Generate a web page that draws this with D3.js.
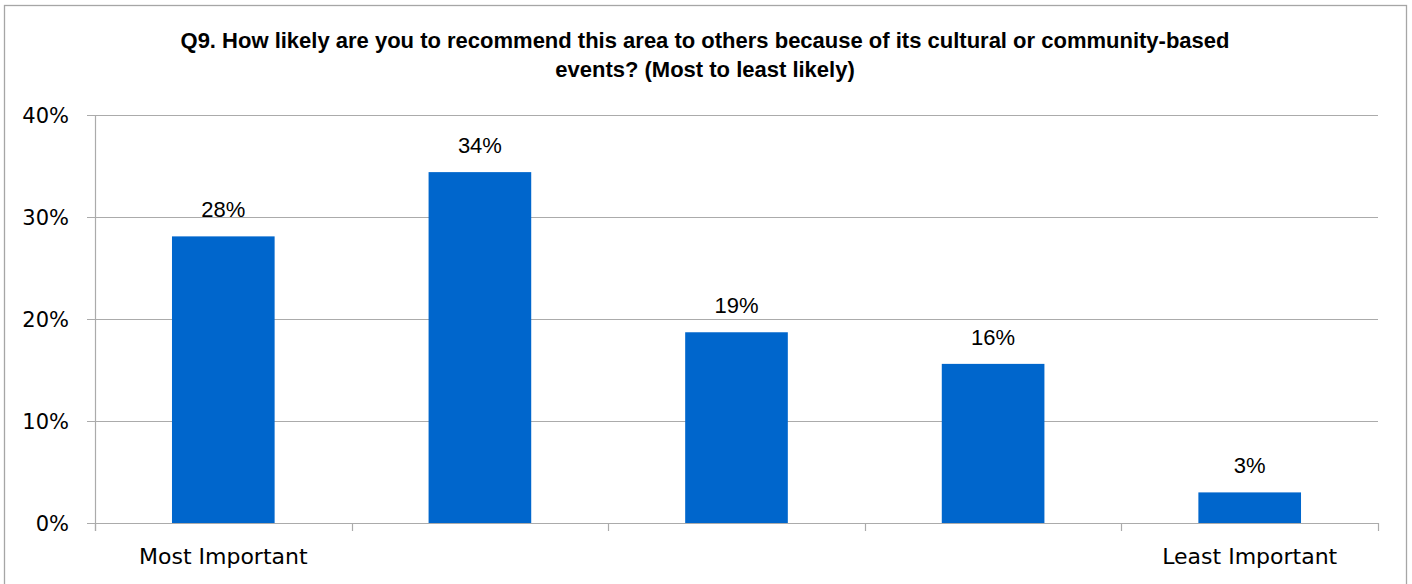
<!DOCTYPE html>
<html>
<head>
<meta charset="utf-8">
<script src="https://cdn.jsdelivr.net/npm/d3@7"></script>
<style>
  html, body { margin: 0; padding: 0; background: #fff; }
  svg { display: block; }
</style>
</head>
<body>
<svg id="chart" width="1412" height="584"></svg>
<script>
const categories = ["1", "2", "3", "4", "5"];
const categoryLabels = ["Most Important", "", "", "", "Least Important"];
const values = [0.281, 0.344, 0.187, 0.156, 0.030];
const dataLabels = ["28%", "34%", "19%", "16%", "3%"];
const yTicks = [0, 0.1, 0.2, 0.3, 0.4];
const titleLines = [
  "Q9. How likely are you to recommend this area to others because of its cultural or community-based",
  "events? (Most to least likely)"
];

const svg = d3.select("#chart");
const plot = { left: 95, right: 1378, top: 115, bottom: 523 };

// outer border
svg.append("rect")
  .attr("x", 4.5).attr("y", 5.5)
  .attr("width", 1402).attr("height", 600)
  .attr("fill", "#fff").attr("stroke", "#a6a6a6").attr("stroke-width", 1.3);

// title
svg.append("g").selectAll("text").data(titleLines).join("text")
  .attr("x", 705).attr("y", (d, i) => 48 + i * 29)
  .attr("text-anchor", "middle")
  .attr("font-family", "Liberation Sans, Arial, sans-serif")
  .attr("font-weight", "bold")
  .attr("font-size", 22)
  .attr("fill", "#000")
  .text(d => d);

const x = d3.scaleBand().domain(categories).range([plot.left, plot.right]).paddingInner(0.6).paddingOuter(0.3);
const xBand = d3.scaleBand().domain(categories).range([plot.left, plot.right]);
const y = d3.scaleLinear().domain([0, 0.4]).range([plot.bottom, plot.top]);

// gridlines
svg.append("g").selectAll("line").data(yTicks).join("line")
  .attr("x1", plot.left - 8).attr("x2", plot.right)
  .attr("y1", d => Math.round(y(d)) + 0.5).attr("y2", d => Math.round(y(d)) + 0.5)
  .attr("stroke", "#ababab").attr("stroke-width", 1.2);

// y axis line
svg.append("line")
  .attr("x1", plot.left + 0.5).attr("x2", plot.left + 0.5)
  .attr("y1", plot.top).attr("y2", plot.bottom + 8)
  .attr("stroke", "#ababab").attr("stroke-width", 1.2);

// x category ticks
const xTickPos = categories.map(c => xBand(c)).concat([plot.right]);
svg.append("g").selectAll("line").data(xTickPos).join("line")
  .attr("x1", d => Math.round(d) + 0.5).attr("x2", d => Math.round(d) + 0.5)
  .attr("y1", plot.bottom).attr("y2", plot.bottom + 8)
  .attr("stroke", "#ababab").attr("stroke-width", 1.2);

// y tick labels
svg.append("g").selectAll("text").data(yTicks).join("text")
  .attr("x", 69).attr("y", d => y(d) + 8)
  .attr("text-anchor", "end")
  .attr("font-family", "DejaVu Sans, sans-serif")
  .attr("font-size", 21)
  .attr("fill", "#000")
  .text(d => d3.format(".0%")(d));

// bars
svg.append("g").selectAll("rect").data(values).join("rect")
  .attr("x", (d, i) => x(categories[i]))
  .attr("width", x.bandwidth())
  .attr("y", d => y(d))
  .attr("height", d => y(0) - y(d))
  .attr("fill", "#0066cc");

// data labels
svg.append("g").selectAll("text").data(values).join("text")
  .attr("x", (d, i) => x(categories[i]) + x.bandwidth() / 2)
  .attr("y", d => y(d) - 19)
  .attr("text-anchor", "middle")
  .attr("font-family", "Liberation Sans, Arial, sans-serif")
  .attr("font-size", 22)
  .attr("fill", "#000")
  .text((d, i) => dataLabels[i]);

// x category labels
svg.append("g").selectAll("text").data(categoryLabels).join("text")
  .attr("x", (d, i) => xBand(categories[i]) + xBand.bandwidth() / 2)
  .attr("y", 564)
  .attr("text-anchor", "middle")
  .attr("font-family", "DejaVu Sans, sans-serif")
  .attr("font-size", 22)
  .attr("fill", "#000")
  .text(d => d);
</script>
</body>
</html>
